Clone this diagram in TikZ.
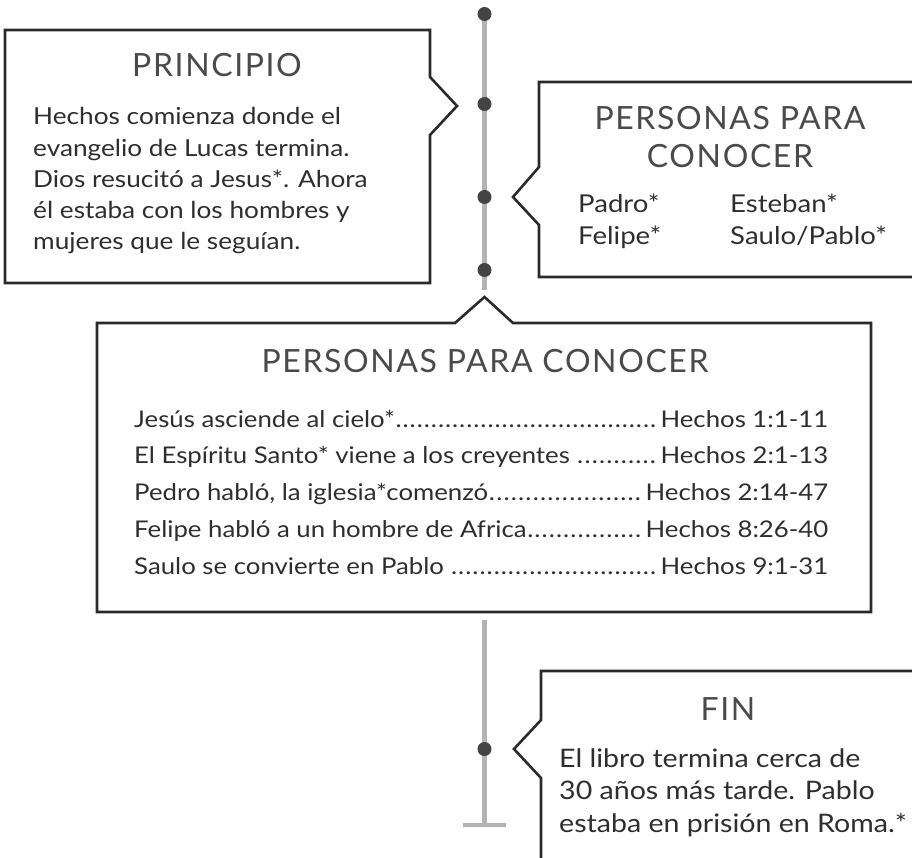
\documentclass[tikz,border=0pt]{standalone}
\usepackage{fontspec}
\setmainfont{Lato}[FakeStretch=1.12]
\newfontfamily\titlefont[LetterSpace=5]{Lato}
\definecolor{boxline}{HTML}{2A2A2A}
\definecolor{titlecol}{HTML}{4A4A4A}
\definecolor{bodycol}{HTML}{2E2E2E}
\definecolor{linegray}{HTML}{B3B3B3}
\definecolor{dotcol}{HTML}{444444}
\newcommand{\myleaders}{\xleaders\hbox to 7pt{\hss.\hss}\hfill}
\begin{document}
\begin{tikzpicture}[x=1pt,y=-1pt,
  callout/.style={draw=boxline,line width=2.6pt,line join=miter},
  tline/.style={draw=linegray,line width=4.5pt},
  tdot/.style={circle,fill=dotcol,inner sep=0pt,minimum size=14pt},
  ttl/.style={inner sep=0pt,anchor=base,text=titlecol,font=\titlefont\fontsize{32}{38}\selectfont},
  body/.style={inner sep=0pt,anchor=base west,text=bodycol,align=left},
]
\clip (0,0) rectangle (912,858);
% timeline
\coordinate (ttop) at (484.5,14);
\coordinate (tend) at (484.5,290);
\coordinate (bstart) at (484.5,620);
\coordinate (bend) at (484.5,825);
\coordinate (bl) at (463,825);
\coordinate (br) at (506,825);
\draw[tline] (ttop) -- (tend);
\draw[tline] (bstart) -- (bend);
\draw[tline] (bl) -- (br);
\node[tdot] (d1) at (484.5,14) {};
\node[tdot] (d2) at (484.5,104) {};
\node[tdot] (d3) at (484.5,197) {};
\node[tdot] (d4) at (484.5,270) {};
\node[tdot] (d5) at (484.5,749) {};
% callouts
\draw[callout] (5,30) -- (430,30) -- (430,77) -- (457,106) -- (430,135) -- (430,283) -- (5,283) -- cycle;
\draw[callout] (930,82) -- (539,82) -- (539,167) -- (513,197) -- (539,225) -- (539,277) -- (930,277);
\draw[callout] (97,323) -- (455,323) -- (484.5,297) -- (513,323) -- (871,323) -- (871,612) -- (97,612) -- cycle;
\draw[callout] (930,671) -- (541,671) -- (541,720) -- (514,749) -- (541,778) -- (541,880);
% texts
\node[ttl] (t1) at (217,77) {PRINCIPIO};
\node[body,font=\fontsize{23.4}{31.3}\selectfont] (b1) at (33,250) {Hechos comienza donde el\\evangelio de Lucas termina.\\Dios resucitó a Jesus*. Ahora\\él estaba con los hombres y\\mujeres que le seguían.};
\node[ttl] (t2) at (730,130) {PERSONAS PARA};
\node[ttl] (t2b) at (730,168) {CONOCER};
\node[body,font=\fontsize{24.6}{32}\selectfont] (n1) at (578,245) {Padro*\\Felipe*};
\node[body,font=\fontsize{24.6}{32}\selectfont] (n2) at (730,245) {Esteban*\\Saulo/Pablo*};
\node[ttl] (t3) at (485,372) {PERSONAS PARA CONOCER};
\tikzset{entry/.style={body,font=\fontsize{23}{30}\selectfont}}
\node[entry] (e1) at (134,427) {\hbox to 694pt{Jesús asciende al cielo*\myleaders\,Hechos 1:1-11}};
\node[entry] (e2) at (134,463) {\hbox to 694pt{El Espíritu Santo* viene a los creyentes \myleaders\,Hechos 2:1-13}};
\node[entry] (e3) at (134,500) {\hbox to 694pt{Pedro habló, la iglesia*comenzó\myleaders\,Hechos 2:14-47}};
\node[entry] (e4) at (134,537) {\hbox to 694pt{Felipe habló a un hombre de Africa\myleaders\,Hechos 8:26-40}};
\node[entry] (e5) at (134,574) {\hbox to 694pt{Saulo se convierte en Pablo \myleaders\,Hechos 9:1-31}};
\node[ttl] (t4) at (728,720) {FIN};
\node[body,font=\fontsize{25.5}{32.5}\selectfont] (b4) at (559,832) {El libro termina cerca de\\30 años más tarde. Pablo\\estaba en prisión en Roma.*};
\end{tikzpicture}
\end{document}
